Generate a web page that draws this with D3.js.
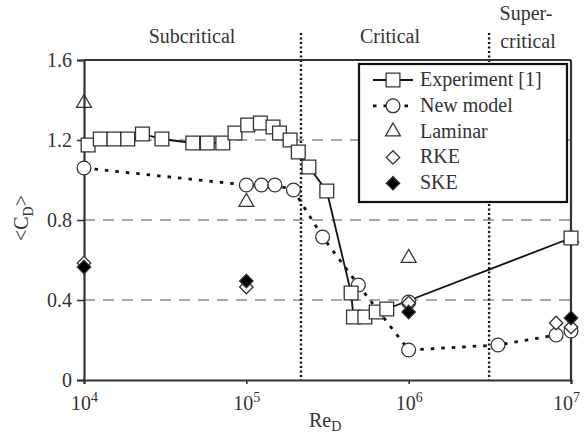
<!DOCTYPE html>
<html>
<head>
<meta charset="utf-8">
<script src="https://cdn.jsdelivr.net/npm/d3@7"></script>
<style>
  body { margin: 0; background: #fff; }
  svg, svg text { font-family: "Times New Roman", Times, "Liberation Serif", "Nimbus Roman", "Noto Serif", Tinos, "DejaVu Serif", serif; }
</style>
</head>
<body>
<div class="chart"></div>
<script>
// Experiment [1]
const expRe = [1.06e4, 1.26e4, 1.53e4, 1.86e4, 2.29e4, 3.02e4, 4.68e4, 5.75e4, 7.16e4, 8.51e4,
  1.02e5, 1.22e5, 1.46e5, 1.6e5, 1.86e5, 2.09e5, 2.43e5, 3.13e5, 4.42e5, 4.57e5,
  5.37e5, 6.31e5, 7.33e5, 1e7];
const expCd = [1.175, 1.205, 1.205, 1.205, 1.23, 1.205, 1.185, 1.185, 1.185, 1.235,
  1.275, 1.285, 1.265, 1.235, 1.2, 1.14, 1.065, 0.945, 0.435, 0.315,
  0.315, 0.34, 0.355, 0.71];

// New model (dotted line) plus one lone point at 1e6
const newRe = [1e4, 1e5, 1.24e5, 1.5e5, 1.95e5, 2.95e5, 4.9e5, 1e6, 3.55e6, 8.1e6, 1e7];
const newCd = [1.06, 0.975, 0.975, 0.975, 0.95, 0.715, 0.475, 0.15, 0.175, 0.225, 0.245];
const newExtraRe = [1e6];
const newExtraCd = [0.39];

const lamRe = [1e4, 1e5, 1e6, 1e7];
const lamCd = [1.385, 0.89, 0.61, 0.71];

const rkeRe = [1e4, 1e5, 1e6, 8.1e6, 1e7];
const rkeCd = [0.585, 0.465, 0.385, 0.285, 0.265];

const skeRe = [1e4, 1e5, 1e6, 1e7];
const skeCd = [0.565, 0.495, 0.34, 0.31];

// regime boundaries and labels
const boundaries = [2.17e5, 3.13e6];
const yTicks = [0, 0.4, 0.8, 1.2, 1.6];
const gridValues = [0.4, 0.8, 1.2];
const xTicks = [1e4, 1e5, 1e6, 1e7];

const FONT = "'Times New Roman', Times, 'Liberation Serif', 'Nimbus Roman', 'Noto Serif', Tinos, 'DejaVu Serif', serif";
const W = 585, H = 436;
const margin = { top: 60, right: 14, bottom: 56, left: 84 };

const svg = d3.select(".chart").append("svg").attr("width", W).attr("height", H)
  .style("font-family", FONT);

const x = d3.scaleLog().domain([1e4, 1e7]).range([margin.left, W - margin.right]);
const y = d3.scaleLinear().domain([0, 1.6]).range([H - margin.bottom, margin.top]);

const zip = (a, b) => a.map((v, i) => [v, b[i]]);

// dashed grid
svg.append("g").selectAll("line").data(gridValues).join("line")
  .attr("x1", x(1e4)).attr("x2", x(1e7))
  .attr("y1", d => y(d)).attr("y2", d => y(d))
  .attr("stroke", "#a8a8a8").attr("stroke-width", 2.2).attr("stroke-dasharray", "11,8");

// regime boundaries (dotted)
svg.append("g").selectAll("line").data(boundaries).join("line")
  .attr("x1", d => x(d)).attr("x2", d => x(d))
  .attr("y1", 33).attr("y2", y(0))
  .attr("stroke", "#111").attr("stroke-width", 2.4).attr("stroke-dasharray", "2,2.5");

// frame top and right
svg.append("line").attr("x1", x(1e4)).attr("x2", x(1e7)).attr("y1", y(1.6)).attr("y2", y(1.6))
  .attr("stroke", "#333").attr("stroke-width", 2.2);
svg.append("line").attr("x1", x(1e7)).attr("x2", x(1e7)).attr("y1", y(1.6)).attr("y2", y(0))
  .attr("stroke", "#333").attr("stroke-width", 2.2);

// axes
const yAxis = svg.append("g").attr("transform", `translate(${x(1e4)},0)`)
  .call(d3.axisLeft(y).tickValues(yTicks).tickFormat(d => d === 0 ? "0" : d3.format(".1f")(d)).tickSize(7).tickPadding(5));
const xAxis = svg.append("g").attr("transform", `translate(0,${y(0)})`)
  .call(d3.axisBottom(x).tickValues(xTicks).tickFormat("").tickSize(4));
[yAxis, xAxis].forEach(g => {
  g.attr("font-family", null).attr("font-size", 20).style("font-family", FONT);
  g.select(".domain").attr("stroke", "#333").attr("stroke-width", 2.2);
  g.selectAll(".tick line").attr("stroke", "#333").attr("stroke-width", 1.6);
  g.selectAll(".tick text").attr("fill", "#333");
});
xAxis.selectAll(".tick").append("text")
  .attr("y", 30).attr("x", d => d === 1e7 ? -5 : 0)
  .attr("text-anchor", "middle").attr("fill", "#333")
  .each(function (d) {
    const t = d3.select(this);
    t.append("tspan").text("10");
    t.append("tspan").attr("dy", -8).attr("font-size", 14).text(Math.round(Math.log10(d)));
  });

// axis titles
svg.append("text").attr("x", 309).attr("y", 427).attr("fill", "#333").attr("font-size", 20)
  .call(t => { t.append("tspan").text("Re"); t.append("tspan").attr("dy", 4).attr("font-size", 14).text("D"); });
svg.append("text").attr("transform", "translate(28,218) rotate(-90)").attr("text-anchor", "middle")
  .attr("fill", "#333").attr("font-size", 20)
  .call(t => {
    t.append("tspan").text("<C");
    t.append("tspan").attr("dy", 5).attr("font-size", 14).text("D");
    t.append("tspan").attr("dy", -5).text(">");
  });

// regime labels
const regimes = [
  { text: "Subcritical", x: 192, y: 43 },
  { text: "Critical", x: 390, y: 43 },
  { text: "Super-", x: 526, y: 20 },
  { text: "critical", x: 528, y: 48 }
];
svg.append("g").selectAll("text").data(regimes).join("text")
  .attr("x", d => d.x).attr("y", d => d.y).attr("text-anchor", "middle")
  .attr("fill", "#333").attr("font-size", 20).text(d => d.text);

// lines
const line = d3.line().x(d => x(d[0])).y(d => y(d[1]));
svg.append("path").datum(zip(newRe, newCd)).attr("d", line)
  .attr("fill", "none").attr("stroke", "#111").attr("stroke-width", 2.8).attr("stroke-dasharray", "3.5,7");
svg.append("path").datum(zip(expRe, expCd)).attr("d", line)
  .attr("fill", "none").attr("stroke", "#111").attr("stroke-width", 1.8);

// markers
const diamond = { draw(ctx, size) { const r = Math.sqrt(size / 2); ctx.moveTo(0, -r); ctx.lineTo(r, 0); ctx.lineTo(0, r); ctx.lineTo(-r, 0); ctx.closePath(); } };
const sym = {
  square: d3.symbol(d3.symbolSquare, 190),
  circle: d3.symbol(d3.symbolCircle, 150),
  triangle: d3.symbol(d3.symbolTriangle, 95),
  diamond: d3.symbol(diamond, 90)
};
function markers(pts, shape, fill) {
  svg.append("g").selectAll("path").data(pts).join("path")
    .attr("transform", d => `translate(${x(d[0])},${y(d[1])})`)
    .attr("d", sym[shape]).attr("fill", fill).attr("stroke", "#333").attr("stroke-width", 1.3);
}
markers(zip(lamRe, lamCd), "triangle", "none");
markers(zip(newRe, newCd).concat(zip(newExtraRe, newExtraCd)), "circle", "#fff");
markers(zip(expRe, expCd), "square", "#fff");
markers(zip(rkeRe, rkeCd), "diamond", "#fff");
markers(zip(skeRe, skeCd), "diamond", "#000");

// legend
const legend = svg.append("g");
legend.append("rect").attr("x", 359).attr("y", 64).attr("width", 208).attr("height", 138)
  .attr("fill", "#fff").attr("stroke", "#111").attr("stroke-width", 2.2);
const legendItems = [
  { label: "Experiment [1]", shape: "square", fill: "#fff", line: "solid" },
  { label: "New model", shape: "circle", fill: "#fff", line: "dotted" },
  { label: "Laminar", shape: "triangle", fill: "none", line: null },
  { label: "RKE", shape: "diamond", fill: "#fff", line: null },
  { label: "SKE", shape: "diamond", fill: "#000", line: null }
];
const rows = legend.selectAll("g.row").data(legendItems).join("g").attr("class", "row")
  .attr("transform", (d, i) => `translate(393,${80 + i * 25.8})`);
rows.filter(d => d.line).append("line")
  .attr("x1", -20).attr("x2", 20)
  .attr("stroke", "#111").attr("stroke-width", d => d.line === "solid" ? 1.8 : 2.8)
  .attr("stroke-dasharray", d => d.line === "solid" ? null : "3.5,7");
rows.append("path").attr("d", d => sym[d.shape]())
  .attr("fill", d => d.fill).attr("stroke", "#333").attr("stroke-width", 1.3);
rows.append("text").attr("x", 27).attr("y", 6).attr("fill", "#333").attr("font-size", 20)
  .text(d => d.label);
</script>
</body>
</html>
